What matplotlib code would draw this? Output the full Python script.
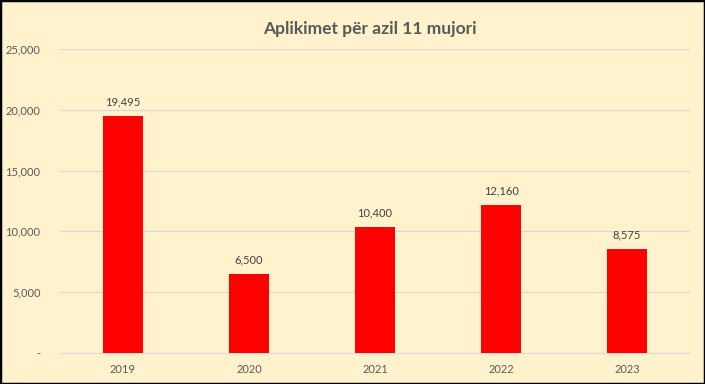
import matplotlib.pyplot as plt
from matplotlib.ticker import FuncFormatter
from matplotlib.patches import Rectangle

years = ['2019', '2020', '2021', '2022', '2023']
applications = [19495, 6500, 10400, 12160, 8575]
title = 'Aplikimet për azil 11 mujori'

bg = '#FFF2CC'
plt.rcParams['font.family'] = ['Lato', 'DejaVu Sans']

fig = plt.figure(figsize=(7.05, 3.84), dpi=100, facecolor=bg)
ax = fig.add_axes([0.085, 0.081, 0.894, 0.791])
ax.set_facecolor(bg)

bars = ax.bar(years, applications, width=0.32, color='#FF0000', zorder=3)
for b, v in zip(bars, applications):
    ax.annotate(f'{v:,}', (b.get_x() + b.get_width() / 2, v), xytext=(0, 6),
                textcoords='offset points', ha='center', va='bottom',
                fontsize=8, color='#404040')

ax.set_ylim(0, 25000)
ax.set_xlim(-0.5, 4.5)
ax.set_yticks(range(0, 25001, 5000))
ax.yaxis.set_major_formatter(FuncFormatter(lambda v, p: '-' if v == 0 else f'{int(v):,}'))
ax.grid(axis='y', color='#D9D9D9', linewidth=0.8, zorder=0)
for s in ['top', 'right', 'left']:
    ax.spines[s].set_visible(False)
ax.spines['bottom'].set_color('#D9D9D9')
ax.tick_params(axis='both', length=0, labelsize=8, colors='#595959', pad=8)
ax.tick_params(axis='y', pad=14)

fig.text(0.525, 0.925, title, ha='center', va='center', fontsize=12.5,
         fontweight='bold', color='#595959')

fig.patches.append(Rectangle((0, 0), 1, 1, transform=fig.transFigure, fill=False,
                             edgecolor='black', linewidth=2.5))

fig.savefig('out.png', dpi=100, facecolor=bg)
